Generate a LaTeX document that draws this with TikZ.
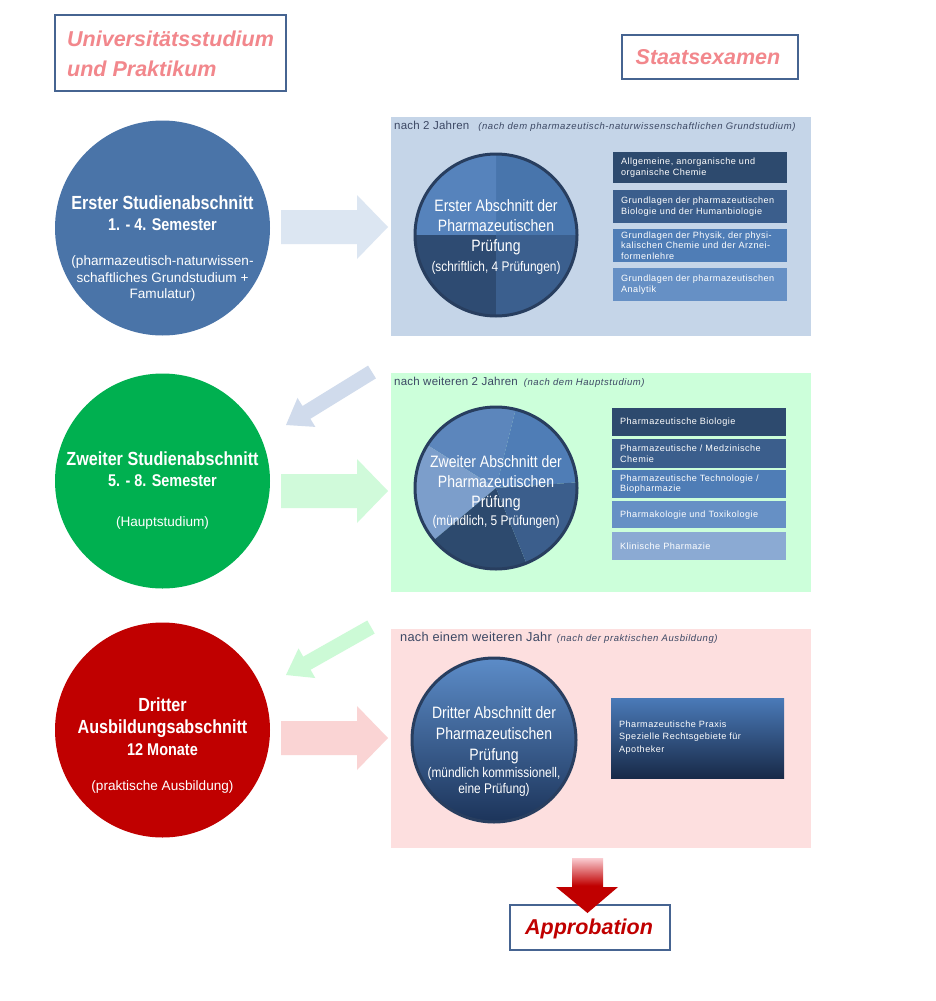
\documentclass[tikz,border=0pt]{standalone}
\usepackage{fontspec}
\setmainfont{Liberation Sans}
\newfontfamily\narrowf[FakeStretch=0.85]{Liberation Sans}
\newfontfamily\boxf[LetterSpace=5]{Liberation Sans}
\newfontfamily\labf[LetterSpace=2]{Liberation Sans}
\newfontfamily\labit[LetterSpace=6]{Liberation Sans}
\newcommand\myitlab{\labit\itshape\fontsize{9.5}{11}\selectfont}
\newcommand\smallp{\narrowf\fontsize{14}{16}\selectfont}
\usetikzlibrary{calc}
\definecolor{pinkt}{RGB}{242,135,140}
\definecolor{boxline}{RGB}{70,100,145}
\definecolor{cblue}{RGB}{74,116,168}
\definecolor{cgreen}{RGB}{0,176,80}
\definecolor{cred}{RGB}{192,0,0}
\definecolor{pan1}{RGB}{197,213,232}
\definecolor{pan2}{RGB}{204,255,218}
\definecolor{pan3}{RGB}{253,223,223}
\definecolor{arr1}{RGB}{220,230,242}
\definecolor{arr2}{RGB}{208,250,218}
\definecolor{arr3}{RGB}{250,212,212}
\definecolor{dia1}{RGB}{208,219,236}
\definecolor{dia2}{RGB}{204,250,214}
\definecolor{lab}{RGB}{60,72,100}
\definecolor{s1}{RGB}{45,74,110}
\definecolor{s2}{RGB}{59,94,140}
\definecolor{s3}{RGB}{79,125,182}
\definecolor{s4}{RGB}{102,144,197}
\definecolor{s5}{RGB}{139,170,211}
\definecolor{pieline}{RGB}{40,62,95}
\definecolor{qTL}{RGB}{86,131,188}
\definecolor{qTR}{RGB}{72,117,172}
\definecolor{qBL}{RGB}{46,75,114}
\definecolor{qBR}{RGB}{59,95,142}
\definecolor{rA}{RGB}{79,125,182}
\definecolor{rB}{RGB}{92,134,188}
\definecolor{rC}{RGB}{124,158,203}
\definecolor{rD}{RGB}{45,74,110}
\definecolor{rE}{RGB}{59,94,140}
\definecolor{g3top}{RGB}{92,140,200}
\definecolor{g3bot}{RGB}{28,52,90}
\definecolor{bxtop}{RGB}{74,122,184}
\definecolor{bxbot}{RGB}{24,42,72}
\definecolor{apink}{RGB}{250,205,210}
\begin{document}
\begin{tikzpicture}[x=1pt,y=-1pt,
  titlebox/.style={draw=boxline, line width=1.3pt, fill=white, inner sep=0, rectangle},
  titletext/.style={text=pinkt, font=\bfseries\itshape\fontsize{21.5}{30}\selectfont, align=left, inner sep=0},
  bigcirc/.style={circle, minimum size=215pt, inner sep=0},
  ctitle/.style={text=white, font=\narrowf\bfseries\fontsize{19}{22}\selectfont, align=center, inner sep=0},
  csub/.style={text=white, font=\narrowf\bfseries\fontsize{17}{20}\selectfont, align=center, inner sep=0},
  cnote/.style={text=white, font=\fontsize{13.6}{16.5}\selectfont, align=center, inner sep=0},
  panel/.style={rectangle, minimum width=420pt, minimum height=219pt, inner sep=0, anchor=north west},
  plabel/.style={text=lab, anchor=west, inner sep=0, font=\labf\fontsize{11.5}{13}\selectfont},
  ptext/.style={text=white, font=\narrowf\fontsize{16.5}{20}\selectfont, align=center, inner sep=0},
  pring/.style={circle, draw=pieline, line width=3pt, minimum size=162pt, inner sep=0},
  sbox/.style={rectangle, anchor=north west, text=white, align=left, text width=158pt, inner xsep=8pt, inner ysep=0, font=\boxf\fontsize{9.1}{10.5}\selectfont},
  pics/harrow/.style={code={\path[pic actions] (0,-17) -- (76,-17) -- (76,-32) -- (107,0) -- (76,32) -- (76,17) -- (0,17) -- cycle;}}
]
\useasboundingbox (0,0) rectangle (936,1001);
\fill[white] (0,0) rectangle (936,1001);

% title boxes
\node[titlebox, minimum width=231pt, minimum height=76pt] (t1) at (170.5,53) {};
\node[titletext, anchor=west] (t1txt) at (67,54) {Universitätsstudium\\und Praktikum};
\node[titlebox, minimum width=176pt, minimum height=44pt] (t2) at (710,57) {};
\node[titletext, anchor=center] (t2txt) at (708,57) {Staatsexamen};

% big circles
\node[bigcirc, fill=cblue] (c1) at (162.5,228) {};
\node[ctitle] (c1a) at (162.5,203) {Erster Studienabschnitt};
\node[csub] (c1b) at (162.5,225) {1. - 4. Semester};
\node[cnote] (c1c) at (162.5,278.5) {(pharmazeutisch-naturwissen-\\schaftliches Grundstudium +\\Famulatur)};

\node[bigcirc, fill=cgreen] (c2) at (162.5,481) {};
\node[ctitle] (c2a) at (162.5,459) {Zweiter Studienabschnitt};
\node[csub] (c2b) at (162.5,481) {5. - 8. Semester};
\node[cnote] (c2c) at (162.5,523) {(Hauptstudium)};

\node[bigcirc, fill=cred] (c3) at (162.5,730) {};
\node[ctitle] (c3a) at (162.5,717.5) {Dritter\\Ausbildungsabschnitt};
\node[csub] (c3b) at (162.5,750) {12 Monate};
\node[cnote] (c3c) at (162.5,787) {(praktische Ausbildung)};

% horizontal arrows
\pic[fill=arr1] (h1) at (281,227) {harrow};
\pic[fill=arr2] (h2) at (281,491) {harrow};
\pic[fill=arr3] (h3) at (281,738) {harrow};

% panels
\node[panel, fill=pan1] (p1) at (391,117) {};
\node[panel, fill=pan2] (p2) at (391,373) {};
\node[panel, fill=pan3] (p3) at (391,629) {};

\node[plabel] (p1l) at (394,126) {nach 2 Jahren\hspace*{9pt}{\myitlab (nach dem pharmazeutisch-naturwissenschaftlichen Grundstudium)}};
\node[plabel] (p2l) at (394,382) {nach weiteren 2 Jahren\hspace*{6pt}{\myitlab (nach dem Hauptstudium)}};
\node[plabel, font=\labf\fontsize{12.8}{13}\selectfont] (p3l) at (400,638) {nach einem weiteren Jahr\hspace*{5pt}{\myitlab (nach der praktischen Ausbildung)}};

% diagonal arrows
\coordinate (d1s) at (372,372);
\coordinate (d1e) at (286,425);
\coordinate (d1h) at ($(d1e)!24pt!(d1s)$);
\fill[dia1] ($(d1s)!7.5pt!90:(d1e)$) -- ($(d1h)!7.5pt!-90:(d1s)$) -- ($(d1h)!17pt!-90:(d1s)$) -- (d1e)
  -- ($(d1h)!17pt!90:(d1s)$) -- ($(d1h)!7.5pt!90:(d1s)$) -- ($(d1s)!7.5pt!-90:(d1e)$) -- cycle;
\coordinate (d2s) at (371,627);
\coordinate (d2e) at (286,675);
\coordinate (d2h) at ($(d2e)!24pt!(d2s)$);
\fill[dia2] ($(d2s)!7.5pt!90:(d2e)$) -- ($(d2h)!7.5pt!-90:(d2s)$) -- ($(d2h)!17pt!-90:(d2s)$) -- (d2e)
  -- ($(d2h)!17pt!90:(d2s)$) -- ($(d2h)!7.5pt!90:(d2s)$) -- ($(d2s)!7.5pt!-90:(d2e)$) -- cycle;

% pie 1
\coordinate (pc1) at (496,235);
\fill[qTR] (pc1) -- ++(0:81pt) arc[start angle=0, end angle=90, radius=81pt] -- cycle;
\fill[qTL] (pc1) -- ++(90:81pt) arc[start angle=90, end angle=180, radius=81pt] -- cycle;
\fill[qBL] (pc1) -- ++(180:81pt) arc[start angle=180, end angle=270, radius=81pt] -- cycle;
\fill[qBR] (pc1) -- ++(270:81pt) arc[start angle=270, end angle=360, radius=81pt] -- cycle;
\node[pring] (e1) at (pc1) {};
\node[ptext] (e1t) at (496,237) {Erster Abschnitt der\\Pharmazeutischen\\Prüfung\\\fontsize{14}{20}\selectfont (schriftlich, 4 Prüfungen)};

% boxes panel 1
\node[sbox, fill=s1, minimum height=31pt] (b11) at (613,152) {Allgemeine, anorganische und\\organische Chemie};
\node[sbox, fill=s2, minimum height=33pt] (b12) at (613,190) {Grundlagen der pharmazeutischen\\Biologie und der Humanbiologie};
\node[sbox, fill=s3, minimum height=33pt] (b13) at (613,229) {Grundlagen der Physik, der physi-\\kalischen Chemie und der Arznei-\\formenlehre};
\node[sbox, fill=s4, minimum height=33pt] (b14) at (613,268) {Grundlagen der pharmazeutischen\\Analytik};

% pie 2
\coordinate (pc2) at (496,488);
\fill[rA] (pc2) -- ++(4:81pt) arc[start angle=4, end angle=76, radius=81pt] -- cycle;
\fill[rB] (pc2) -- ++(76:81pt) arc[start angle=76, end angle=148, radius=81pt] -- cycle;
\fill[rC] (pc2) -- ++(148:81pt) arc[start angle=148, end angle=220, radius=81pt] -- cycle;
\fill[rD] (pc2) -- ++(220:81pt) arc[start angle=220, end angle=292, radius=81pt] -- cycle;
\fill[rE] (pc2) -- ++(292:81pt) arc[start angle=292, end angle=364, radius=81pt] -- cycle;
\node[pring] (e2) at (pc2) {};
\node[ptext] (e2t) at (496,492) {Zweiter Abschnitt der\\Pharmazeutischen\\Prüfung\\[-2pt]\fontsize{14}{20}\selectfont (mündlich, 5 Prüfungen)};

% boxes panel 2
\node[sbox, fill=s1, minimum height=28pt] (b21) at (612,408) {Pharmazeutische Biologie};
\node[sbox, fill=s2, minimum height=29pt] (b22) at (612,439) {Pharmazeutische / Medzinische\\Chemie};
\node[sbox, fill=s3, minimum height=28pt] (b23) at (612,470) {Pharmazeutische Technologie /\\Biopharmazie};
\node[sbox, fill=s4, minimum height=27pt] (b24) at (612,501) {Pharmakologie und Toxikologie};
\node[sbox, fill=s5, minimum height=28pt] (b25) at (612,532) {Klinische Pharmazie};

% circle 3
\node[pring, minimum size=164pt, top color=g3top, bottom color=g3bot, draw=pieline] (e3) at (494,740) {};
\node[ptext] (e3t) at (494,751) {Dritter Abschnitt der\\[1pt]Pharmazeutischen\\[1pt]Prüfung\\[-3pt]{\smallp (mündlich kommissionell,}\\[-4pt]{\smallp eine Prüfung)}};

% box panel 3
\node[rectangle, anchor=north west, minimum width=173pt, minimum height=80pt, inner sep=0, top color=bxtop, bottom color=bxbot] (b31) at (611,698) {};
\node[text=white, anchor=west, align=left, inner sep=0, font=\boxf\fontsize{9.1}{12.5}\selectfont] (b31t) at (619,737.5) {Pharmazeutische Praxis\\Spezielle Rechtsgebiete für\\Apotheker};

% Approbation
\node[titlebox, minimum width=160pt, minimum height=45pt] (ap) at (590,927.5) {};
\node[titletext, text=cred, anchor=center] (aptxt) at (589,929) {Approbation};
\path[top color=apink, bottom color=cred, middle color=cred] (572,858) -- (603,858) -- (603,887) -- (618,887) -- (587.5,913) -- (556,887) -- (572,887) -- cycle;
\end{tikzpicture}
\end{document}
